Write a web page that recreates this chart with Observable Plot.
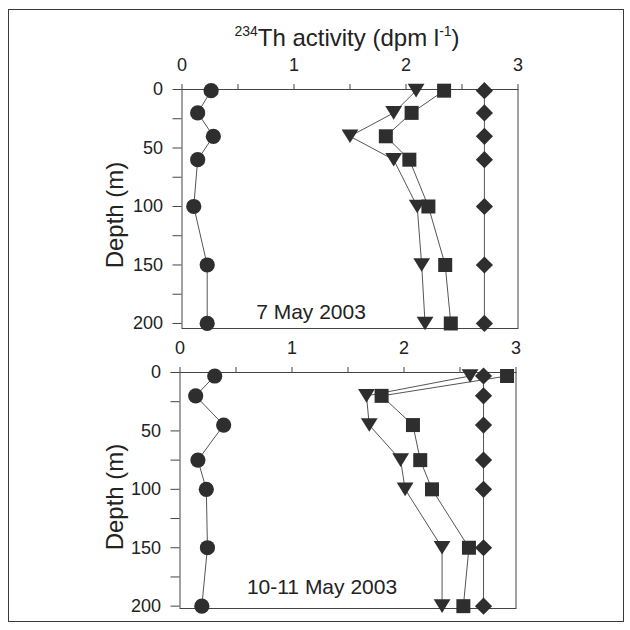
<!DOCTYPE html>
<html><head><meta charset="utf-8">
<script src="https://cdn.jsdelivr.net/npm/d3@7"></script>
<script src="https://cdn.jsdelivr.net/npm/@observablehq/plot@0.6"></script>
<style>
html,body{margin:0;padding:0;background:#fff;}
body{font-family:"Liberation Sans",Arial,sans-serif;color:#222;}
#wrap{position:relative;width:630px;height:630px;overflow:hidden;}
.abs{position:absolute;white-space:nowrap;}
#border{position:absolute;left:8px;top:9px;width:616px;height:613px;border:1.5px solid #3a3a3a;box-sizing:border-box;pointer-events:none;}
.ylab{font-size:24px;transform:translate(-50%,-50%) rotate(-90deg);}
.plab{font-size:21px;transform:translate(-50%,-50%);}
sup{font-size:14px;vertical-align:0;position:relative;top:-10px;}
</style></head>
<body><div id="wrap"></div>
<script>
// ---- data ----
const seriesNames = ["circle", "triangle", "square", "diamond"];
const depthsMay7 = [1, 20, 40, 60, 100, 150, 200];
const circleMay7 = [0.26, 0.14, 0.28, 0.14, 0.105, 0.225, 0.225];
const triangleMay7 = [2.09, 1.89, 1.50, 1.89, 2.10, 2.14, 2.17];
const squareMay7 = [2.34, 2.05, 1.82, 2.03, 2.20, 2.35, 2.40];
const diamondMay7 = [2.70, 2.70, 2.70, 2.70, 2.70, 2.70, 2.70];
const depthsMay10 = [3, 20, 45, 75, 100, 150, 200];
const circleMay10 = [0.31, 0.14, 0.39, 0.16, 0.235, 0.245, 0.195];
const triangleMay10 = [2.59, 1.665, 1.69, 1.97, 2.01, 2.34, 2.34];
const squareMay10 = [2.92, 1.80, 2.08, 2.145, 2.25, 2.58, 2.53];
const diamondMay10 = [2.71, 2.71, 2.71, 2.71, 2.71, 2.71, 2.71];
const xTicks = [0, 1, 2, 3];
const xMinorTicks = [0.5, 1.5, 2.5];
const yTicks = [0, 50, 100, 150, 200];
const yMinorTicks = [25, 75, 125, 175];
const panelLabels = ["7 May 2003", "10-11 May 2003"];
const yLabel = "Depth (m)";

function rowsOf(depths, lists) {
  const rows = [];
  seriesNames.forEach((s, i) => depths.forEach((d, j) => rows.push({series: s, depth: d, v: lists[i][j]})));
  return rows;
}
const rows7 = rowsOf(depthsMay7, [circleMay7, triangleMay7, squareMay7, diamondMay7]);
const rows10 = rowsOf(depthsMay10, [circleMay10, triangleMay10, squareMay10, diamondMay10]);

const sym = {
  circle: {draw(c) { c.moveTo(7.6, 0); c.arc(0, 0, 7.6, 0, 2 * Math.PI); }},
  square: {draw(c) { c.moveTo(-7, -7); c.lineTo(7, -7); c.lineTo(7, 7); c.lineTo(-7, 7); c.closePath(); }},
  diamond: {draw(c) { c.moveTo(0, -8.6); c.lineTo(8.6, 0); c.lineTo(0, 8.6); c.lineTo(-8.6, 0); c.closePath(); }},
  triangle: {draw(c) { c.moveTo(-8.4, -6.8); c.lineTo(8.4, -6.8); c.lineTo(0, 6.8); c.closePath(); }}
};

const ink = "#2e2e2e";
function panel(rows, cfg) {
  return Plot.plot({
    width: 630, height: cfg.height,
    marginLeft: cfg.left, marginRight: 630 - cfg.right,
    marginTop: cfg.top, marginBottom: cfg.bottom,
    style: "background:transparent;overflow:visible;font-family:'Liberation Sans',Arial,sans-serif;color:#222;",
    x: {domain: [0, 3]},
    y: {domain: [0, cfg.maxDepth], reverse: true},
    marks: [
      Plot.frame({stroke: "#444", strokeWidth: 1}),
      Plot.axisX(xTicks, {anchor: "top", tickSize: 6, tickPadding: 13, fontSize: 18, label: null, stroke: "#444"}),
      Plot.axisX(xMinorTicks, {anchor: "top", tickSize: 6, tickFormat: () => "", label: null, stroke: "#444"}),
      Plot.axisY(yTicks, {anchor: "left", tickSize: 9, tickPadding: 10, fontSize: 18, label: null, stroke: "#444"}),
      Plot.axisY(yMinorTicks, {anchor: "left", tickSize: 9, tickFormat: () => "", label: null, stroke: "#444"}),
      Plot.line(rows, {x: "v", y: "depth", z: "series", stroke: "#555", strokeWidth: 1}),
      ...seriesNames.map(s => Plot.dot(rows.filter(r => r.series === s), {x: "v", y: "depth", symbol: sym[s], fill: ink, stroke: "none", r: 7}))
    ]
  });
}

const wrap = document.getElementById("wrap");
function place(el, top) { el.style.position = "absolute"; el.style.left = "0px"; el.style.top = top + "px"; wrap.appendChild(el); }

place(panel(rows7, {height: 336, left: 181.5, right: 517.5, top: 89, bottom: 8, maxDepth: 204.3}), 0);
place(panel(rows10, {height: 294, left: 179.5, right: 515.5, top: 36, bottom: 22, maxDepth: 202}), 336);

function addDiv(cls, html, x, y, extra) {
  const d = document.createElement("div");
  d.className = "abs " + cls;
  d.innerHTML = html;
  d.style.left = x + "px"; d.style.top = y + "px";
  if (extra) d.style.cssText += extra;
  wrap.appendChild(d);
}
addDiv("plab", "<sup>234</sup>Th activity (dpm l<sup>-1</sup>)", 347, 38, "font-size:24px;");
addDiv("ylab", yLabel, 115, 215);
addDiv("ylab", yLabel, 115, 497);
addDiv("plab", panelLabels[0], 311, 312);
addDiv("plab", panelLabels[1], 322, 587);
const b = document.createElement("div"); b.id = "border"; wrap.appendChild(b);
</script>
</body></html>
